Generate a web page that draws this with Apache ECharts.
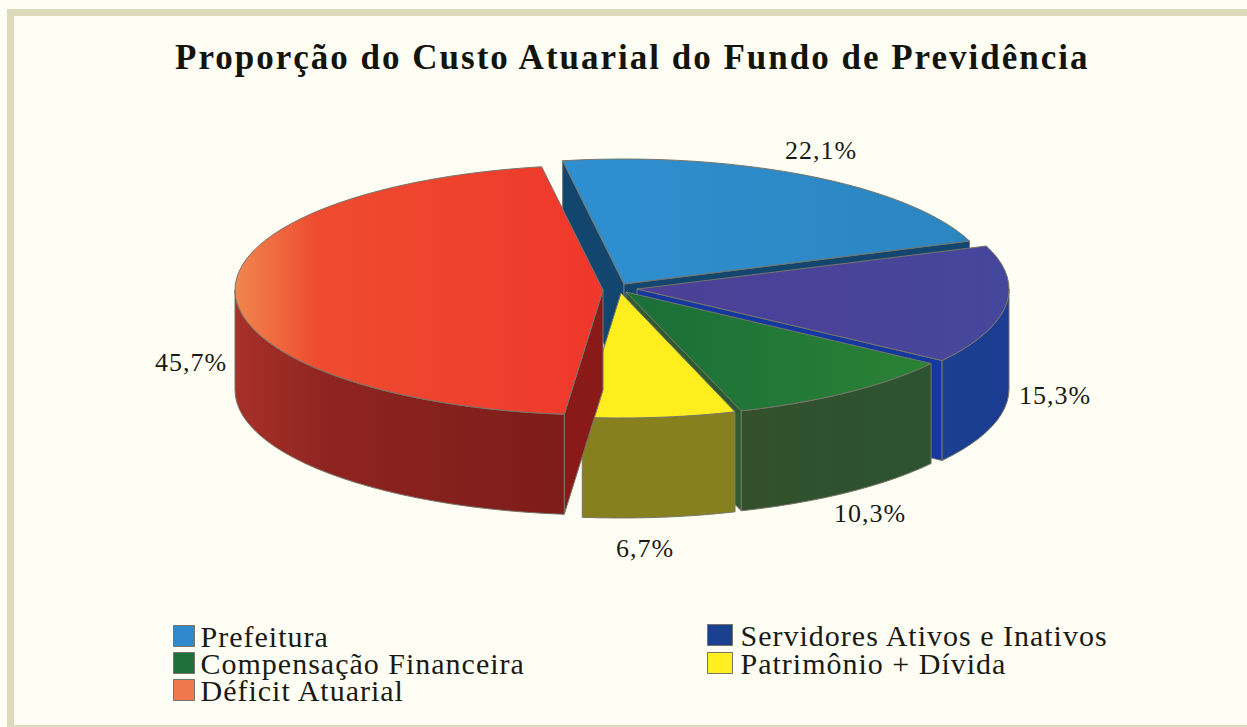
<!DOCTYPE html>
<html><head><meta charset="utf-8">
<script src="https://cdn.jsdelivr.net/npm/echarts@6/dist/echarts.min.js"></script>
<style>
html,body{margin:0;padding:0;background:#fefef4}
#main{width:1247px;height:727px}
svg text{letter-spacing:1px}
svg text[style*="bold"]{letter-spacing:2px}
</style></head><body><div id="main"></div>
<script>
// ---- data ----
const titleText = 'Proporção do Custo Atuarial do Fundo de Previdência';
const categories = ['Prefeitura','Servidores Ativos e Inativos','Compensação Financeira','Patrimônio + Dívida','Déficit Atuarial'];
const values = [22.1,15.3,10.3,6.7,45.7];
const valueLabels = ['22,1%','15,3%','10,3%','6,7%','45,7%'];

// ---- layout and style ----
const startAngle = -9.6, RY = 125, DEPTH = 100, STROKE = '#77756a';
const apex = [[624,284,368],[637,289,372],[626,292,372],[621,293,368],[603,290,368]];
const labelPos = [[821,150],[1055,395],[870,513],[645,548],[191,362]];
const legendPos = [[173,621,21,1],[707,620,25,3],[173,648,21,1],[707,648,25,3],[173,675,21,1]];
const legendColor = ['#2f8acb','#1c4090','#1f6f3a','#ffee20','#f0784c'];
const G = echarts.graphic.LinearGradient;
const hgrad = (stops) => new G(0,0,1,0,stops.map((c)=>({offset:c[0],color:c[1]})));
const topFill = [
  hgrad([[0,'#2f8fd0'],[1,'#2b86c0']]),
  hgrad([[0,'#4c3f96'],[1,'#45479c']]),
  hgrad([[0,'#1a6e38'],[1,'#2a8234']]),
  '#ffee1e',
  hgrad([[0,'#f0874e'],[0.22,'#ee4c30'],[1,'#ef372b']])
];
const wallFill = [
  '#12466e',
  hgrad([[0,'#1c3f92'],[1,'#1b3c90']]),
  hgrad([[0,'#33502c'],[1,'#2c5430']]),
  '#86801f',
  hgrad([[0,'#a8302a'],[0.3,'#8d2420'],[1,'#7e1c1a']])
];
const radialFill = ['#12466e','#1438a0','#2e5a30','#86801f','#8a1a18'];

const pt = (a, deg, rx) => {
  const t = deg*Math.PI/180;
  return [a[0]+rx*Math.sin(t), a[1]-RY*Math.cos(t)];
};
function arc(a, from, to, rx){
  const out=[], n=Math.max(1,Math.ceil((to-from)/3));
  for(let i=0;i<=n;i++) out.push(pt(a,from+(to-from)*i/n,rx));
  return out;
}
const down = p => [p[0],p[1]+DEPTH];

function renderSlice(idx){
  return function(params, api){
    const total = values.reduce((s,v)=>s+v,0);
    let acc = 0;
    for(let i=0;i<idx;i++) acc += values[i];
    const from = startAngle + acc/total*360;
    const to = from + api.value(0)/total*360;
    const a = apex[idx], rx = a[2];
    const kids = [];
    const poly = (pts,fill)=>kids.push({type:'polygon',shape:{points:pts},
      style:{fill:fill,stroke:STROKE,lineWidth:1,lineJoin:'round'}});
    // radial walls that face the viewer
    const rad = d => d*Math.PI/180;
    if(-Math.sin(rad(from))>0){
      const o = pt(a,from,rx);
      poly([[a[0],a[1]],o,down(o),down(a)],radialFill[idx]);
    }
    if(Math.sin(rad(to))>0){
      const o = pt(a,to,rx);
      poly([[a[0],a[1]],o,down(o),down(a)],radialFill[idx]);
    }
    // outer wall, front half only
    const wf = Math.max(from,90), wt = Math.min(to,270);
    if(wt>wf){
      const e = arc(a,wf,wt,rx);
      poly(e.concat(e.map(down).reverse()),wallFill[idx]);
    }
    // top
    poly([[a[0],a[1]]].concat(arc(a,from,to,rx)),topFill[idx]);
    return {type:'group',children:kids};
  };
}

const series = categories.map((name,i)=>({
  name:name, type:'custom', coordinateSystem:'none', silent:true,
  itemStyle:{color:legendColor[i]},
  data:[[values[i]]], renderItem:renderSlice(i), animation:false, z:i+2
}));

const legends = categories.map((name,i)=>({
  data:[{name:name,icon:'rect'}], left:legendPos[i][0], top:legendPos[i][1],
  itemWidth:legendPos[i][2], itemHeight:21, itemGap:0, padding:0, selectedMode:false,
  itemStyle:{borderColor:STROKE,borderWidth:1},
  textStyle:{fontFamily:'Liberation Serif',fontSize:30,lineHeight:21,color:'#1a1a14',padding:[0,0,0,legendPos[i][3]]}
}));

const band = '#dcd9bc';
const chart = echarts.init(document.getElementById('main'),null,{renderer:'svg'});
chart.setOption({
  animation:false,
  backgroundColor:'#fefef4',
  title:{text:titleText,left:175,top:40,padding:0,
    textStyle:{fontFamily:'Liberation Serif',fontWeight:'bold',fontSize:35,color:'#14140e'}},
  legend:legends,
  graphic:[
    {type:'rect',silent:true,z:0,shape:{x:7,y:9,width:1240,height:7},style:{fill:band}},
    {type:'rect',silent:true,z:0,shape:{x:7,y:9,width:7,height:718},style:{fill:band}},
    {type:'rect',silent:true,z:0,shape:{x:7,y:725,width:1240,height:2},style:{fill:band}},
    ...valueLabels.map((t,i)=>({type:'text',silent:true,z:20,x:labelPos[i][0],y:labelPos[i][1],
      style:{text:t,fill:'#1a1a14',font:'26px "Liberation Serif"',textAlign:'center',textVerticalAlign:'middle'}}))
  ],
  series:series
});
</script></body></html>
